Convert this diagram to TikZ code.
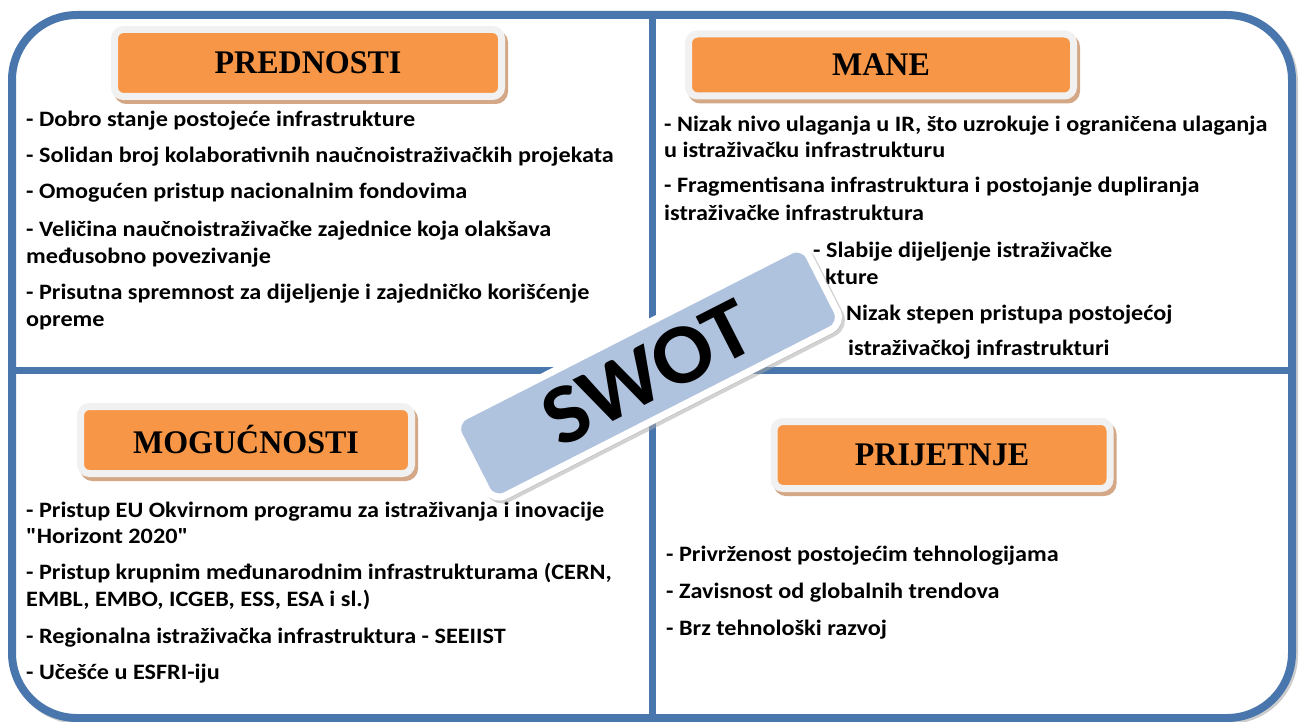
\documentclass[tikz,border=0pt]{standalone}
\usepackage{fontspec}
\newfontfamily\bodyf{Carlito}[FakeStretch=1.1]
\newfontfamily\swotf{Carlito}[FakeStretch=1.05]
\newfontfamily\titlef{Liberation Serif}[FakeStretch=0.97]
\definecolor{frameC}{RGB}{74,118,174}
\definecolor{orangeF}{RGB}{247,150,70}
\definecolor{grayF}{RGB}{241,241,241}
\definecolor{tanC}{RGB}{212,168,134}
\definecolor{swotC}{RGB}{176,195,222}
\tikzset{
  frameline/.style={draw=frameC, line width=8pt},
  divline/.style={draw=frameC, line width=7pt},
  titlebox/.style={rectangle, rounded corners=9pt, fill=orangeF, draw=grayF, line width=7pt, inner sep=0pt,
    text=black, font=\titlef\bfseries\fontsize{33}{33}\selectfont,
    preaction={draw=tanC, fill=tanC, line width=7pt, transform canvas={xshift=3pt,yshift=-4pt}}},
  txt/.style={anchor=base west, inner sep=0pt, text=black, font=\bodyf\bfseries\fontsize{22}{27}\selectfont},
  swotbox/.style={rectangle, rounded corners=14pt, fill=swotC, draw=white, line width=7pt, inner sep=0pt,
    minimum width=393pt, minimum height=89pt, rotate=27, text=black,
    font=\swotf\bfseries\fontsize{85}{85}\selectfont,
    preaction={draw=black!35, fill=black!35, line width=7pt, opacity=0.5, transform canvas={xshift=3pt,yshift=-3pt}}}
}
\begin{document}
\begin{tikzpicture}[x=1pt,y=-1pt]
\useasboundingbox (0,0) rectangle (1300,722);
\fill[white] (0,0) rectangle (1300,722);
% outer frame
\draw[draw=black!20, line width=8pt, rounded corners=65pt, transform canvas={xshift=2pt,yshift=-2pt}] (12,15) rectangle (1292,718);
\draw[frameline, fill=white, rounded corners=65pt] (12,15) rectangle (1292,718);
\coordinate (vt) at (652,15);
\coordinate (vb) at (652,718);
\coordinate (hl) at (12,370);
\coordinate (hr) at (1292,370);
\draw[divline] (vt) -- (vb);
\draw[divline] (hl) -- (hr);

% title boxes
\node[titlebox, minimum width=387pt, minimum height=67pt] (pred) at (308,63) {PREDNOSTI};
\node[titlebox, minimum width=385pt, minimum height=62pt] (mane) at (881,65) {MANE};
\node[titlebox, minimum width=331pt, minimum height=67pt] (mog) at (246,440) {MOGUĆNOSTI};
\node[titlebox, minimum width=336pt, minimum height=67pt] (prij) at (942,455) {PRIJETNJE};

% top-left text
\node[txt] (l1) at (26,127) {- Dobro stanje postojeće infrastrukture};
\node[txt] (l2) at (26,163) {- Solidan broj kolaborativnih naučnoistraživačkih projekata};
\node[txt] (l3) at (26,199) {- Omogućen pristup nacionalnim fondovima};
\node[txt] (l4) at (26,236) {- Veličina naučnoistraživačke zajednice koja olakšava};
\node[txt] (l5) at (26,263) {međusobno povezivanje};
\node[txt] (l6) at (26,299) {- Prisutna spremnost za dijeljenje i zajedničko korišćenje};
\node[txt] (l7) at (26,326) {opreme};

% top-right text
\node[txt] (r1) at (664,132) {- Nizak nivo ulaganja u IR, što uzrokuje i ograničena ulaganja};
\node[txt] (r2) at (664,158) {u istraživačku infrastrukturu};
\node[txt] (r3) at (664,193) {- Fragmentisana infrastruktura i postojanje dupliranja};
\node[txt] (r4) at (664,220) {istraživačke infrastruktura};
\node[txt] (r5) at (813,257) {- Slabije dijeljenje istraživačke};
\node[txt] (r6) at (825,284) {kture};
\node[txt] (r7) at (846,320) {Nizak stepen pristupa postojećoj};
\node[txt] (r8) at (848,355) {istraživačkoj infrastrukturi};

% bottom-left text
\node[txt] (b1) at (26,517) {- Pristup EU Okvirnom programu za istraživanja i inovacije};
\node[txt] (b2) at (26,543) {"Horizont 2020"};
\node[txt] (b3) at (26,579) {- Pristup krupnim međunarodnim infrastrukturama (CERN,};
\node[txt] (b4) at (26,606) {EMBL, EMBO, ICGEB, ESS, ESA i sl.)};
\node[txt] (b5) at (26,643) {- Regionalna istraživačka infrastruktura - SEEIIST};
\node[txt] (b6) at (26,679) {- Učešće u ESFRI-iju};

% bottom-right text
\node[txt] (c1) at (666,561) {- Privrženost postojećim tehnologijama};
\node[txt] (c2) at (666,598) {- Zavisnost od globalnih trendova};
\node[txt] (c3) at (666,635) {- Brz tehnološki razvoj};

% SWOT
\node[swotbox] (swot) at (648,373) {SWOT};
\end{tikzpicture}
\end{document}
